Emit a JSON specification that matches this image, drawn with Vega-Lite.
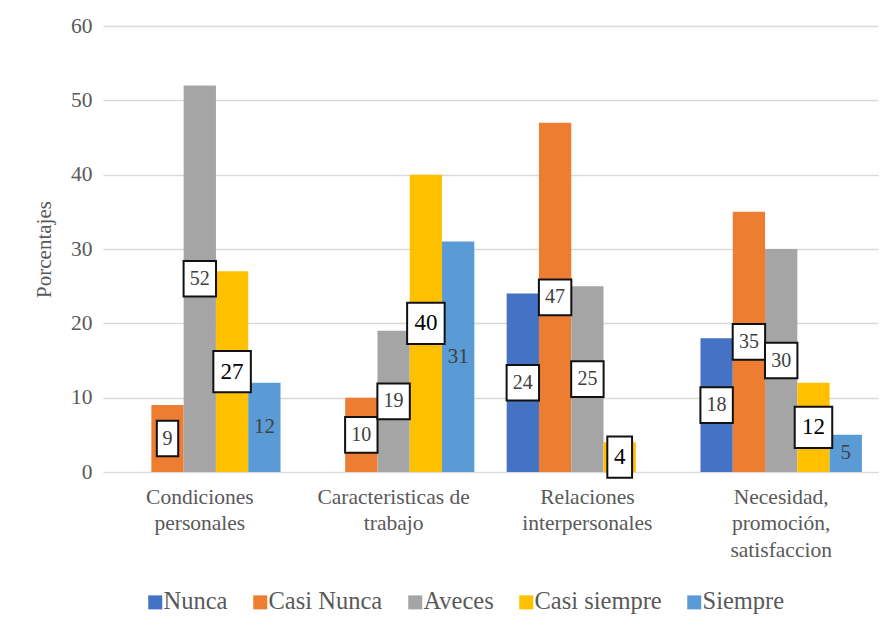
{
  "$schema": "https://vega.github.io/schema/vega-lite/v6.json",
  "width": 775,
  "height": 446,
  "autosize": {"type": "none"},
  "padding": {"left": 103, "top": 26, "right": 6, "bottom": 158},
  "background": "white",
  "config": {
    "font": "Liberation Serif",
    "view": {"stroke": null},
    "axis": {"labelFont": "Liberation Serif", "titleFont": "Liberation Serif"},
    "legend": {"labelFont": "Liberation Serif"},
    "text": {"font": "Liberation Serif"}
  },
  "data": {
    "values": [
      {"categoria": "Condiciones personales", "serie": "Casi Nunca", "valor": 9},
      {"categoria": "Condiciones personales", "serie": "Aveces", "valor": 52},
      {"categoria": "Condiciones personales", "serie": "Casi siempre", "valor": 27},
      {"categoria": "Condiciones personales", "serie": "Siempre", "valor": 12},
      {"categoria": "Caracteristicas de trabajo", "serie": "Casi Nunca", "valor": 10},
      {"categoria": "Caracteristicas de trabajo", "serie": "Aveces", "valor": 19},
      {"categoria": "Caracteristicas de trabajo", "serie": "Casi siempre", "valor": 40},
      {"categoria": "Caracteristicas de trabajo", "serie": "Siempre", "valor": 31},
      {"categoria": "Relaciones interpersonales", "serie": "Nunca", "valor": 24},
      {"categoria": "Relaciones interpersonales", "serie": "Casi Nunca", "valor": 47},
      {"categoria": "Relaciones interpersonales", "serie": "Aveces", "valor": 25},
      {"categoria": "Relaciones interpersonales", "serie": "Casi siempre", "valor": 4},
      {"categoria": "Necesidad, promoción, satisfaccion", "serie": "Nunca", "valor": 18},
      {"categoria": "Necesidad, promoción, satisfaccion", "serie": "Casi Nunca", "valor": 35},
      {"categoria": "Necesidad, promoción, satisfaccion", "serie": "Aveces", "valor": 30},
      {"categoria": "Necesidad, promoción, satisfaccion", "serie": "Casi siempre", "valor": 12},
      {"categoria": "Necesidad, promoción, satisfaccion", "serie": "Siempre", "valor": 5}
    ]
  },
  "transform": [{"calculate": "datum.valor / 2", "as": "mitad"}],
  "encoding": {
    "x": {
      "field": "categoria",
      "type": "nominal",
      "sort": ["Condiciones personales", "Caracteristicas de trabajo", "Relaciones interpersonales", "Necesidad, promoción, satisfaccion"],
      "scale": {"paddingInner": 0.167, "paddingOuter": 0.083},
      "axis": {
        "title": null,
        "labelAngle": 0,
        "domain": false,
        "ticks": false,
        "labelFont": "Liberation Serif",
        "labelFontSize": 21.5,
        "labelColor": "#595959",
        "labelLineHeight": 26.5,
        "labelPadding": 14,
        "labelExpr": "datum.label == 'Condiciones personales' ? ['Condiciones', 'personales'] : datum.label == 'Caracteristicas de trabajo' ? ['Caracteristicas de', 'trabajo'] : datum.label == 'Relaciones interpersonales' ? ['Relaciones', 'interpersonales'] : ['Necesidad,', 'promoción,', 'satisfaccion']"
      }
    },
    "xOffset": {
      "field": "serie",
      "type": "nominal",
      "scale": {"domain": ["Nunca", "Casi Nunca", "Aveces", "Casi siempre", "Siempre"], "paddingInner": 0, "paddingOuter": 0}
    }
  },
  "layer": [
    {
      "mark": {"type": "bar"},
      "encoding": {
        "y": {
          "field": "valor",
          "type": "quantitative",
          "scale": {"domain": [0, 60], "nice": false},
          "axis": {
            "title": "Porcentajes",
            "titleFont": "Liberation Serif",
            "titleFontSize": 21,
            "titleFontWeight": "normal",
            "titleColor": "#595959",
            "titlePadding": 16,
            "values": [0, 10, 20, 30, 40, 50, 60],
            "domain": false,
            "ticks": false,
            "labelFont": "Liberation Serif",
            "labelFontSize": 21.5,
            "labelColor": "#595959",
            "labelPadding": 11,
            "gridColor": "#d9d9d9",
            "gridWidth": 1.3
          }
        },
        "color": {
          "field": "serie",
          "type": "nominal",
          "scale": {
            "domain": ["Nunca", "Casi Nunca", "Aveces", "Casi siempre", "Siempre"],
            "range": ["#4472C4", "#ED7D31", "#A5A5A5", "#FFC000", "#5B9BD5"]
          },
          "legend": {
            "title": null,
            "orient": "none",
            "direction": "horizontal",
            "legendX": 40,
            "legendY": 564,
            "symbolType": "square",
            "symbolSize": 196,
            "symbolStrokeWidth": 0,
            "labelFont": "Liberation Serif",
            "labelFontSize": 24.5,
            "labelColor": "#595959",
            "labelOffset": -4,
            "columnPadding": 20
          }
        }
      }
    },
    {
      "transform": [{"filter": "datum.serie != 'Siempre'"}],
      "mark": {"type": "point", "filled": true, "fill": "white", "stroke": "#111111", "strokeWidth": 2, "opacity": 1, "fillOpacity": 1},
      "encoding": {
        "y": {"field": "mitad", "type": "quantitative"},
        "shape": {
          "condition": {"test": "datum.valor < 10", "value": "M-0.6,-1H0.6V1H-0.6Z"},
          "value": "M-0.91,-1H0.91V1H-0.91Z"
        },
        "size": {
          "condition": {"test": "datum.serie == 'Casi siempre'", "value": 1700},
          "value": 1270
        }
      }
    },
    {
      "transform": [{"filter": "datum.serie != 'Siempre'"}],
      "mark": {"type": "text", "baseline": "middle", "align": "center", "font": "Liberation Serif"},
      "encoding": {
        "y": {"field": "mitad", "type": "quantitative"},
        "text": {"field": "valor", "type": "quantitative"},
        "size": {
          "condition": {"test": "datum.serie == 'Casi siempre'", "value": 23},
          "value": 20
        },
        "color": {
          "condition": {"test": "datum.serie == 'Casi siempre'", "value": "#000000"},
          "value": "#404040"
        }
      }
    },
    {
      "transform": [{"filter": "datum.serie == 'Siempre'"}],
      "mark": {"type": "text", "baseline": "middle", "align": "center", "font": "Liberation Serif", "fontSize": 21, "color": "#404040"},
      "encoding": {
        "y": {"field": "mitad", "type": "quantitative"},
        "text": {"field": "valor", "type": "quantitative"}
      }
    }
  ]
}
